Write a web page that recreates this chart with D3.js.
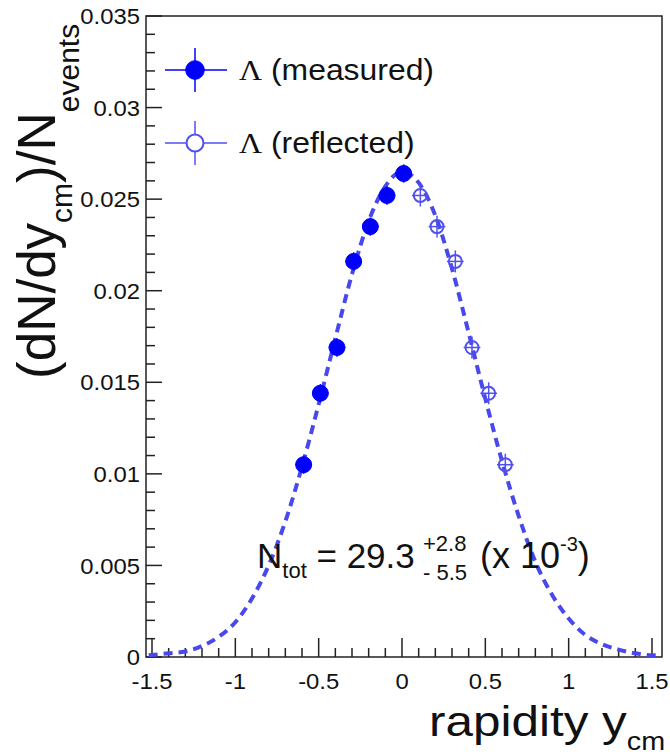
<!DOCTYPE html>
<html>
<head>
<meta charset="utf-8">
<script src="https://cdn.jsdelivr.net/npm/d3@7"></script>
<style>
  body { margin: 0; background: #fff; }
  text { font-family: "Liberation Sans", Arial, sans-serif; fill: #111; }
</style>
</head>
<body>
<div id="chart-container"></div>
<script>
// Data
const measuredY = [-0.59, -0.49, -0.39, -0.29, -0.19, -0.09, 0.01];
const measuredVal = [0.0105, 0.0144, 0.0169, 0.0216, 0.0235, 0.0252, 0.0264];
const measuredErr = [0.0005, 0.0005, 0.0005, 0.0005, 0.0005, 0.0005, 0.0005];

const reflectedY = [0.11, 0.21, 0.32, 0.42, 0.52, 0.62];
const reflectedVal = [0.0252, 0.0235, 0.0216, 0.0169, 0.0144, 0.0105];
const reflectedErr = [0.0006, 0.0006, 0.0006, 0.0006, 0.0006, 0.0006];

// fitted curve, read point by point
const fitY = [-1.52, -1.4, -1.3, -1.2, -1.1, -1.0, -0.9, -0.8, -0.7, -0.6, -0.5, -0.4, -0.3, -0.2, -0.1, 0.0,
  0.1, 0.2, 0.3, 0.4, 0.5, 0.6, 0.7, 0.8, 0.9, 1.0, 1.1, 1.2, 1.3, 1.4, 1.5, 1.55];
const fitVal = [0.0001, 0.0002, 0.0003, 0.0006, 0.0011, 0.0019, 0.0032, 0.0050, 0.0074, 0.0104, 0.0138, 0.0174, 0.0209, 0.0238, 0.0257, 0.0265,
  0.0259, 0.0241, 0.0212, 0.0177, 0.0141, 0.0107, 0.0077, 0.0052, 0.0034, 0.0021, 0.0012, 0.0007, 0.0004, 0.0002, 0.0001, 0.0001];

const xTicks = [-1.5, -1, -0.5, 0, 0.5, 1, 1.5];
const xTickLabels = ['-1.5', '-1', '-0.5', '0', '0.5', '1', '1.5'];
const yTicks = [0, 0.005, 0.01, 0.015, 0.02, 0.025, 0.03, 0.035];
const yTickLabels = ['0', '0.005', '0.01', '0.015', '0.02', '0.025', '0.03', '0.035'];

const svgWidth = 670;
const svgHeight = 755;
const frameLeft = 146, frameRight = 662, frameTop = 16, frameBottom = 657;

const measuredColor = '#0000ff';
const reflectedColor = '#5050f0';
const fitColor = '#4848ee';

const svg = d3.select('#chart-container')
  .append('svg')
  .attr('width', svgWidth)
  .attr('height', svgHeight);

const xScale = d3.scaleLinear().domain([-1.536, 1.56]).range([frameLeft, frameRight]);
const yScale = d3.scaleLinear().domain([0, 0.035]).range([frameBottom, frameTop]);

// frame
svg.append('rect')
  .attr('x', frameLeft).attr('y', frameTop)
  .attr('width', frameRight - frameLeft).attr('height', frameBottom - frameTop)
  .attr('fill', 'none').attr('stroke', '#222').attr('stroke-width', 1.5);

// x ticks (major + minor), pointing up from the bottom frame
const xMinor = d3.range(-15, 16).map(i => i / 10);
svg.append('g')
  .selectAll('line')
  .data(xMinor)
  .enter()
  .append('line')
  .attr('x1', d => xScale(d)).attr('x2', d => xScale(d))
  .attr('y1', frameBottom)
  .attr('y2', (d, i) => frameBottom - (i % 5 === 0 ? 19 : 9))
  .attr('stroke', '#222').attr('stroke-width', 1.5);

svg.append('g')
  .selectAll('text')
  .data(xTicks)
  .enter()
  .append('text')
  .attr('transform', d => 'translate(' + xScale(d) + ',689) scale(1.06,1)')
  .attr('text-anchor', 'middle')
  .style('font-size', '22.5px')
  .text((d, i) => xTickLabels[i]);

// y ticks
const yMinor = d3.range(0, 36).map(i => i / 1000);
svg.append('g')
  .selectAll('line')
  .data(yMinor)
  .enter()
  .append('line')
  .attr('y1', d => yScale(d)).attr('y2', d => yScale(d))
  .attr('x1', frameLeft)
  .attr('x2', (d, i) => frameLeft + (i % 5 === 0 ? 16 : 9))
  .attr('stroke', '#222').attr('stroke-width', 1.5);

svg.append('g')
  .selectAll('text')
  .data(yTicks)
  .enter()
  .append('text')
  .attr('transform', d => 'translate(140,' + yScale(d) + ') scale(1.06,1)')
  .attr('dy', '0.36em')
  .attr('text-anchor', 'end')
  .style('font-size', '22.5px')
  .text((d, i) => yTickLabels[i]);

// fit curve
const line = d3.line()
  .x(d => xScale(d[0]))
  .y(d => yScale(d[1]))
  .curve(d3.curveMonotoneX);

svg.append('path')
  .datum(fitY.map((y, i) => [y, fitVal[i]]))
  .attr('d', line)
  .attr('fill', 'none')
  .attr('stroke', fitColor)
  .attr('stroke-width', 4)
  .attr('stroke-dasharray', '9,6');

// points with small error bars
function drawPoints(xs, vals, errs, color, filled) {
  const g = svg.append('g');
  xs.forEach((x, i) => {
    const cx = xScale(x), cy = yScale(vals[i]);
    g.append('line')
      .attr('x1', xScale(x - 0.05)).attr('x2', xScale(x + 0.05))
      .attr('y1', cy).attr('y2', cy)
      .attr('stroke', color).attr('stroke-width', 1.5);
    g.append('line')
      .attr('x1', cx).attr('x2', cx)
      .attr('y1', yScale(vals[i] - errs[i])).attr('y2', yScale(vals[i] + errs[i]))
      .attr('stroke', color).attr('stroke-width', 1.5);
    g.append('circle')
      .attr('cx', cx).attr('cy', cy)
      .attr('r', filled ? 8 : 6.5)
      .attr('fill', filled ? color : 'none')
      .attr('stroke', color)
      .attr('stroke-width', filled ? 1 : 2);
  });
}
drawPoints(measuredY, measuredVal, measuredErr, measuredColor, true);
drawPoints(reflectedY, reflectedVal, reflectedErr, reflectedColor, false);

// legend
function legendEntry(cy, color, filled, label) {
  const cx = 195;
  svg.append('line').attr('x1', 165).attr('x2', 227).attr('y1', cy).attr('y2', cy)
    .attr('stroke', color).attr('stroke-width', 1.5);
  svg.append('line').attr('x1', cx).attr('x2', cx).attr('y1', cy - 22).attr('y2', cy + 22)
    .attr('stroke', color).attr('stroke-width', 1.5);
  svg.append('circle').attr('cx', cx).attr('cy', cy).attr('r', filled ? 9.3 : 8.5)
    .attr('fill', filled ? color : '#fff').attr('stroke', color).attr('stroke-width', filled ? 1 : 2);
  const t = svg.append('text')
    .attr('transform', 'translate(239,' + (cy + 10) + ') scale(1.1,1)')
    .style('font-size', '29px');
  t.append('tspan').style('font-family', '"Liberation Serif", serif').text('Λ');
  t.append('tspan').text(' ' + label);
}
legendEntry(70, measuredColor, true, '(measured)');
legendEntry(143, reflectedColor, false, '(reflected)');

// annotation
const ann = svg.append('text').attr('x', 257).attr('y', 568).style('font-size', '35px');
ann.append('tspan').text('N');
ann.append('tspan').attr('dy', 10).style('font-size', '22px').text('tot');
ann.append('tspan').attr('dy', -10).text(' = 29.3');
svg.append('text').attr('x', 423).attr('y', 551).style('font-size', '22px').text('+2.8');
svg.append('text').attr('x', 423).attr('y', 580).style('font-size', '22px').text('- 5.5');
const ann2 = svg.append('text').attr('x', 480).attr('y', 568).style('font-size', '36px');
ann2.append('tspan').text('(x 10');
ann2.append('tspan').attr('dy', -17).style('font-size', '20px').text('-3');
ann2.append('tspan').attr('dy', 17).text(')');

// x axis title
const xt = svg.append('text')
  .attr('transform', 'translate(429,736) scale(1.15,1)')
  .style('font-size', '43px');
xt.append('tspan').text('rapidity y');
xt.append('tspan').attr('dy', 14).style('font-size', '25px').text('cm');

// y axis title
const yt = svg.append('text')
  .attr('transform', 'translate(55,379) rotate(-90)')
  .style('font-size', '53px');
yt.append('tspan').text('(dN/dy');
yt.append('tspan').attr('dy', 17).style('font-size', '30px').text('cm');
yt.append('tspan').attr('dy', -17).text(')/N');
yt.append('tspan').attr('dy', 24).style('font-size', '30px').text('events');
</script>
</body>
</html>
